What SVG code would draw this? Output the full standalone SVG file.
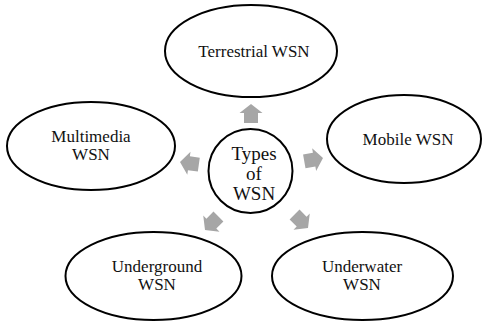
<svg xmlns="http://www.w3.org/2000/svg" xmlns:xlink="http://www.w3.org/1999/xlink" width="483" height="322" viewBox="0 0 483 322">
  <style>
    .node { fill: #ffffff; stroke: #000000; stroke-width: 2; }
    .label { font-family: "Liberation Serif", "Times New Roman", serif; font-size: 17px; fill: #111111; text-anchor: middle; }
    .hub { font-size: 19px; }
    .arrow { fill: #a6a6a6; }
  </style>
  <defs>
    <!-- block arrow with its tip at the origin, pointing along +x -->
    <polygon id="blockArrow" points="0,0 -9,-11.5 -9,-7 -19,-7 -19,7 -9,7 -9,11.5"/>
  </defs>
  <rect width="483" height="322" fill="#ffffff"/>

  <g id="connectors" class="arrow">
    <use xlink:href="#blockArrow" transform="translate(251,104) rotate(-90)"/>
    <use xlink:href="#blockArrow" transform="translate(323,158) rotate(-10)"/>
    <use xlink:href="#blockArrow" transform="translate(180,162) rotate(188)"/>
    <use xlink:href="#blockArrow" transform="translate(205,230) rotate(135)"/>
    <use xlink:href="#blockArrow" transform="translate(308,228) rotate(45)"/>
  </g>

  <g id="types-of-wsn">
    <circle class="node" cx="250.5" cy="171" r="42"/>
    <text class="label hub" x="254" y="160">Types</text>
    <text class="label hub" x="254" y="180">of</text>
    <text class="label hub" x="254" y="200">WSN</text>
  </g>

  <g id="terrestrial-wsn">
    <ellipse class="node" cx="251" cy="51" rx="86" ry="46"/>
    <text class="label" x="254" y="57">Terrestrial WSN</text>
  </g>

  <g id="multimedia-wsn">
    <ellipse class="node" cx="91" cy="146" rx="84" ry="44"/>
    <text class="label" x="91" y="142">Multimedia</text>
    <text class="label" x="91" y="160">WSN</text>
  </g>

  <g id="mobile-wsn">
    <ellipse class="node" cx="404" cy="139" rx="77" ry="44"/>
    <text class="label" x="408" y="145">Mobile WSN</text>
  </g>

  <g id="underground-wsn">
    <ellipse class="node" cx="153.5" cy="276" rx="88" ry="44"/>
    <text class="label" x="157" y="272">Underground</text>
    <text class="label" x="157" y="290">WSN</text>
  </g>

  <g id="underwater-wsn">
    <ellipse class="node" cx="362.5" cy="276" rx="90.5" ry="44"/>
    <text class="label" x="362" y="272">Underwater</text>
    <text class="label" x="362" y="290">WSN</text>
  </g>
</svg>
